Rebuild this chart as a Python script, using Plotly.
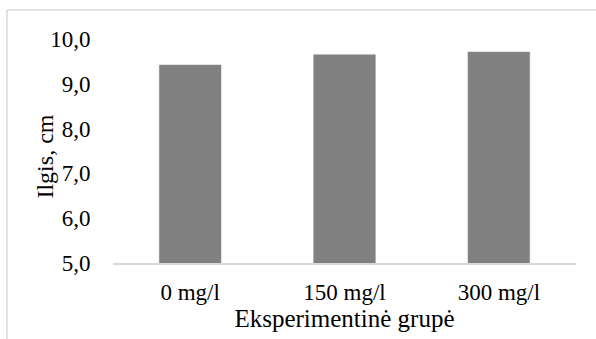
import plotly.graph_objects as go

groups = ["0 mg/l", "150 mg/l", "300 mg/l"]
lengths_cm = [9.42, 9.65, 9.71]
y_ticks = [5.0, 6.0, 7.0, 8.0, 9.0, 10.0]

font_family = "Liberation Serif, Times New Roman, serif"
frame_color = "#d9d9d9"

fig = go.Figure(
    go.Bar(
        x=groups,
        y=lengths_cm,
        marker=dict(color="#808080", line=dict(color="#8c8c8c", width=0.5)),
        width=0.4,
    )
)

# outer chart frame (left and top edges)
fig.add_shape(type="line", xref="paper", yref="paper",
              x0=-0.229, x1=-0.229, y0=1.129, y1=-0.5,
              line=dict(color=frame_color, width=1.5))
fig.add_shape(type="line", xref="paper", yref="paper",
              x0=-0.229, x1=1.2, y0=1.129, y1=1.129,
              line=dict(color=frame_color, width=1.5))

# vertical axis title
fig.add_annotation(
    text="Ilgis, cm", textangle=-90,
    xref="paper", yref="paper", x=-0.147, y=0.475,
    xanchor="center", yanchor="middle", showarrow=False,
    font=dict(family=font_family, size=24, color="black"),
)

fig.update_layout(
    width=596,
    height=339,
    margin=dict(l=113, r=20, t=39, b=76),
    paper_bgcolor="white",
    plot_bgcolor="white",
    separators=", ",
    showlegend=False,
    font=dict(family=font_family, size=23, color="black"),
    xaxis=dict(
        showline=True,
        linecolor=frame_color,
        linewidth=1.5,
        showgrid=False,
        ticks="outside",
        ticklen=8,
        tickcolor="rgba(0,0,0,0)",
        tickfont=dict(size=23),
        title=dict(text="Eksperimentinė grupė", font=dict(size=25), standoff=0),
    ),
    yaxis=dict(
        range=[5, 10],
        tickvals=y_ticks,
        tickformat=".1f",
        showgrid=False,
        zeroline=False,
        ticks="outside",
        ticklen=17,
        tickcolor="rgba(0,0,0,0)",
        tickfont=dict(size=23),
    ),
)

fig.write_html("out.html")
